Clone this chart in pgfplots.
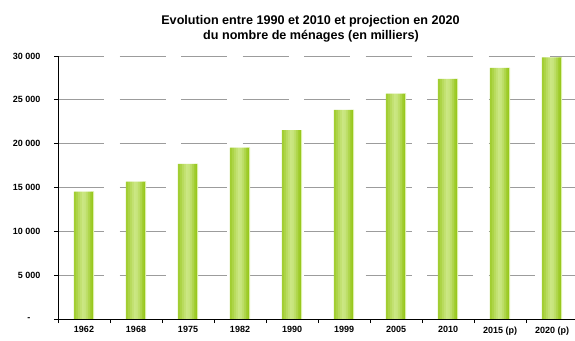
\documentclass[border=0pt]{standalone}
\usepackage{pgfplots}
\usepackage{pgfplotstable}
\pgfplotsset{compat=1.18}
\usepackage{fontspec}
\setmainfont{Liberation Sans}

\definecolor{barside}{HTML}{98C81E}
\definecolor{barlight}{HTML}{CBE783}
\definecolor{baredge}{HTML}{DCF0A8}
\definecolor{gridgray}{HTML}{9C9C9C}

\newcommand{\ticksize}{\fontsize{9bp}{10bp}\bfseries\selectfont}
\newcommand{\titlesize}{\fontsize{12.6bp}{14bp}\bfseries\selectfont}

% Households (thousands) per census year; 2015 and 2020 are projections
\pgfplotstableread{
i  v
0  14530
1  15680
2  17700
3  19550
4  21550
5  23850
6  25700
7  27400
8  28650
9  29850
}\households

% One vertical strip of every bar: shift (bp) and share of the light tint
\newcommand{\strip}[2]{%
  \addplot[draw=none, fill=barlight!#2!barside, bar width=2.1bp, bar shift=#1bp]
    table[x=i, y=v]{\households};}

\begin{document}
\begin{tikzpicture}
\useasboundingbox (0,0) rectangle (575bp,341bp);

% Title, two centred lines
\node[anchor=base, font=\titlesize] at (310.5bp,316bp)
  {Evolution entre 1990 et 2010 et projection en 2020};
\node[anchor=base, font=\titlesize] at (311bp,301bp)
  {du nombre de ménages (en milliers)};

\begin{axis}[
  at={(58bp,22bp)}, anchor=south west,
  scale only axis,
  width=517bp, height=263bp,
  xmin=-0.5, xmax=9.442,
  ymin=0, ymax=30000,
  axis x line*=bottom, axis y line*=left,
  axis line style={black, line width=0.9bp},
  % tick marks between the categories
  xtick={-0.5,0.5,1.5,2.5,3.5,4.5,5.5,6.5,7.5,8.5},
  xticklabels={},
  x tick style={black, line width=0.8bp},
  major tick length=4bp,
  % category names, without tick marks
  extra x ticks={0,1,2,3,4,5,6,7,8,9},
  extra x tick labels={1962,1968,1975,1982,1990,1999,2005,2010,2015 (p),2020 (p)},
  extra x tick style={major tick length=0pt, tick style={draw=none}},
  ytick={0,5000,10000,15000,20000,25000,30000},
  yticklabels={-\hspace*{10bp},5 000,10 000,15 000,20 000,25 000,30 000},
  scaled y ticks=false,
  y tick style={black, line width=0.8bp},
  tick align=outside,
  ymajorgrids,
  major grid style={gridgray, line width=0.9bp, dash pattern=on 46bp off 15.5bp},
  tick label style={font=\ticksize},
  xticklabel style={yshift=-4bp},
  yticklabel style={xshift=-10bp},
  ybar,
]
% bars built from ten strips, lighter towards the centre-left
\strip{-9}{20}
\strip{-7}{40}
\strip{-5}{62}
\strip{-3}{82}
\strip{-1}{100}
\strip{1}{95}
\strip{3}{75}
\strip{5}{48}
\strip{7}{20}
\strip{8.6}{0}
\addplot[draw=none, fill=baredge, bar width=1bp, bar shift=9.5bp]
  table[x=i, y=v]{\households};
\end{axis}
\end{tikzpicture}
\end{document}
